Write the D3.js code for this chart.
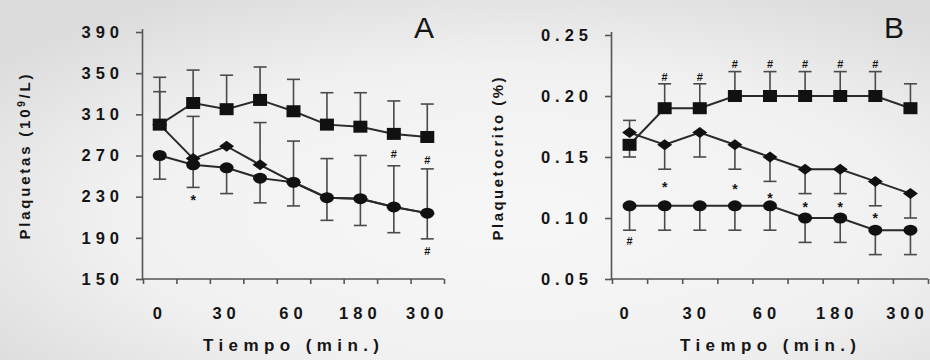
<!DOCTYPE html>
<html><head><meta charset="utf-8">
<script src="https://cdn.jsdelivr.net/npm/d3@7"></script>
<style>
html,body{margin:0;padding:0;background:#ededed;}
svg{display:block;}
text{font-family:"Liberation Sans",Arial,sans-serif;fill:#151515;}
</style></head>
<body>
<svg id="c" width="930" height="360"></svg>
<script>
// ---- data ----
const times = ["0","15","30","45","60","120","180","240","300"];
const timeTickLabels = ["0","","30","","60","","180","","300"];

// Panel A: Plaquetas (10^9/L)
const plaqTicks = [150,190,230,270,310,350,390];
const plaqSquare   = [300,321,315,324,313,300,298,291,288];
const plaqSquareHi = [346,353,348,356,344,331,331,323,320];
const plaqDiamond   = [300,267,279,261,244,229,228,220,214];
const plaqDiamondHi = [332,308,null,302,284,267,270,260,257];
const plaqCircle   = [270,261,258,248,244,229,228,220,214];
const plaqCircleLo = [247,239,233,224,221,207,202,195,189];
const plaqMarks = [
  {i:1, v:229, s:"*"},
  {i:7, v:270, s:"#"},
  {i:8, v:265, s:"#"},
  {i:8, v:176, s:"#"}
];

// Panel B: Plaquetocrito (%)
const pctTicks = [0.05,0.10,0.15,0.20,0.25];
const pctSquare   = [0.16,0.19,0.19,0.20,0.20,0.20,0.20,0.20,0.19];
const pctSquareHi = [null,0.21,0.21,0.22,0.22,0.22,0.22,0.22,0.21];
const pctSquareLo = [0.15,null,null,null,null,null,null,null,null];
const pctDiamond   = [0.17,0.16,0.17,0.16,0.15,0.14,0.14,0.13,0.12];
const pctDiamondHi = [0.18,null,null,null,null,null,null,null,null];
const pctDiamondLo = [null,0.14,0.15,0.14,0.13,0.12,0.12,0.11,0.10];
const pctCircle   = [0.11,0.11,0.11,0.11,0.11,0.10,0.10,0.09,0.09];
const pctCircleLo = [0.09,0.09,0.09,0.09,0.09,0.08,0.08,0.07,0.07];
const pctMarks = [
  {i:0, v:0.080, s:"#"},
  {i:1, v:0.215, s:"#"},{i:2, v:0.215, s:"#"},
  {i:3, v:0.225, s:"#"},{i:4, v:0.225, s:"#"},{i:5, v:0.225, s:"#"},{i:6, v:0.225, s:"#"},{i:7, v:0.225, s:"#"},
  {i:1, v:0.128, s:"*"},{i:3, v:0.126, s:"*"},{i:4, v:0.119, s:"*"},
  {i:5, v:0.111, s:"*"},{i:6, v:0.111, s:"*"},{i:7, v:0.102, s:"*"}
];

// ---- drawing ----
const svg = d3.select("#c");
const defs = svg.append("defs");
const grad = defs.append("radialGradient").attr("id","bg").attr("cx","55%").attr("cy","60%").attr("r","70%");
grad.append("stop").attr("offset","0%").attr("stop-color","#f7f7f7");
grad.append("stop").attr("offset","60%").attr("stop-color","#f1f1f1");
grad.append("stop").attr("offset","100%").attr("stop-color","#dcdcdc");
svg.append("rect").attr("width",930).attr("height",360).attr("fill","url(#bg)");

function panel(cfg){
  const g = svg.append("g");
  const x = d3.scaleBand().domain(times).range([cfg.x0, cfg.x1]).paddingInner(0).paddingOuter(0);
  const y = d3.scaleLinear().domain(cfg.domain).range([cfg.yBottom, cfg.yTop]);
  const cx = t => x(t) + x.bandwidth()/2;

  // y axis
  const ya = d3.axisLeft(y).tickValues(cfg.ticks).tickFormat(cfg.fmt).tickSize(7).tickPadding(12);
  const yg = g.append("g").attr("transform",`translate(${cfg.x0},0)`).call(ya);
  yg.select(".domain").attr("stroke","#555").attr("stroke-width",1.6).attr("d",`M-0.5,${cfg.yTop-3}V${cfg.yBottom}`);
  yg.selectAll(".tick line").attr("stroke","#555").attr("stroke-width",1.6);
  yg.selectAll(".tick text").attr("font-size",16.5).attr("letter-spacing","5px").attr("fill","#151515")
    .attr("font-family","'Liberation Sans',Arial,sans-serif").attr("font-weight","bold");

  // x axis: ticks at band boundaries
  const xb = d3.scaleLinear().domain([0,times.length]).range([cfg.x0,cfg.x1]);
  const xa = d3.axisBottom(xb).tickValues(d3.range(0,times.length+1)).tickFormat("").tickSize(5);
  const xg = g.append("g").attr("transform",`translate(0,${cfg.yBottom})`).call(xa);
  xg.select(".domain").attr("stroke","#555").attr("stroke-width",1.6).attr("d",`M${cfg.x0},0H${cfg.x1}`);
  xg.selectAll(".tick line").attr("stroke","#555").attr("stroke-width",1.6);
  g.append("g").selectAll("text").data(times).join("text")
    .attr("x", t => cx(t) - cfg.labelShift).attr("y", 319).attr("text-anchor","middle")
    .attr("font-size",16.5).attr("font-weight","bold").attr("letter-spacing","5px")
    .text((t,i) => timeTickLabels[i]);

  // error bars
  const eb = g.append("g").attr("stroke","#4a4a4a").attr("stroke-width",1.6);
  cfg.errs.forEach(e => {
    times.forEach((t,i) => {
      const lim = e.lim[i];
      if (lim == null) return;
      const base = e.base[i];
      eb.append("line").attr("x1",cx(t)).attr("x2",cx(t)).attr("y1",y(base)).attr("y2",y(lim));
      eb.append("line").attr("x1",cx(t)-6.5).attr("x2",cx(t)+6.5).attr("y1",y(lim)).attr("y2",y(lim));
    });
  });

  // lines
  const line = d3.line().x((d,i)=>cx(times[i])).y(d=>y(d));
  cfg.series.forEach(s => {
    g.append("path").datum(s.vals).attr("d",line).attr("fill","none").attr("stroke","#2a2a2a").attr("stroke-width",2);
  });
  // markers
  cfg.series.forEach(s => {
    const mg = g.append("g").attr("fill","#111");
    s.vals.forEach((v,i) => {
      const px = cx(times[i]), py = y(v);
      if (s.shape === "square") {
        mg.append("rect").attr("x",px-7).attr("y",py-6).attr("width",14).attr("height",12);
      } else if (s.shape === "diamond") {
        mg.append("path").attr("d",`M${px-7.5},${py}L${px},${py-5.5}L${px+7.5},${py}L${px},${py+5.5}Z`);
      } else {
        mg.append("ellipse").attr("cx",px).attr("cy",py).attr("rx",7).attr("ry",5.5);
      }
    });
  });

  // significance marks
  g.append("g").selectAll("text").data(cfg.marks).join("text")
    .attr("x", d => cx(times[d.i])).attr("y", d => y(d.v))
    .attr("text-anchor","middle").attr("dominant-baseline","middle")
    .attr("font-size", d => d.s === "#" ? 11 : 14).attr("font-weight","bold")
    .attr("fill","#111")
    .attr("dy", d => d.s === "*" ? 4 : 0)
    .text(d => d.s);

  // axis titles
  g.append("text").attr("x", cfg.xTitleX).attr("y", 351).attr("text-anchor","middle")
    .attr("font-size",17).attr("font-weight","bold").attr("textLength",176).attr("lengthAdjust","spacing")
    .text("Tiempo (min.)");
  const yt = g.append("text").attr("transform",`translate(${cfg.yTitleX},${cfg.yTitleY}) rotate(-90)`)
    .attr("text-anchor","middle").attr("font-size",15).attr("font-weight","bold")
    .attr("textLength",cfg.yTitleLen).attr("lengthAdjust","spacing");
  cfg.yTitle.forEach(p => {
    const ts = yt.append("tspan").text(p.t);
    if (p.sup) ts.attr("font-size",10).attr("baseline-shift","super");
  });
  // panel letter
  g.append("text").attr("x",cfg.letterX).attr("y",38).attr("text-anchor","middle")
    .attr("font-size",30).attr("font-weight","normal").attr("fill","#111").text(cfg.letter);
}

panel({
  x0:143, x1:444, yTop:32, yBottom:279, domain:[150,390], ticks:plaqTicks, fmt:d3.format("d"), labelShift:0,
  series:[
    {vals:plaqCircle, shape:"circle"},
    {vals:plaqDiamond, shape:"diamond"},
    {vals:plaqSquare, shape:"square"}
  ],
  errs:[
    {base:plaqSquare, lim:plaqSquareHi},
    {base:plaqDiamond, lim:plaqDiamondHi},
    {base:plaqCircle, lim:plaqCircleLo}
  ],
  marks:plaqMarks,
  xTitleX:291, yTitleX:30, yTitleY:157, yTitleLen:165,
  yTitle:[{t:"Plaquetas (10"},{t:"9",sup:true},{t:"/L)"}], letter:"A", letterX:424
});

panel({
  x0:612, x1:928, yTop:35, yBottom:279, domain:[0.05,0.25], ticks:pctTicks, fmt:d3.format(".2f"), labelShift:3,
  series:[
    {vals:pctCircle, shape:"circle"},
    {vals:pctDiamond, shape:"diamond"},
    {vals:pctSquare, shape:"square"}
  ],
  errs:[
    {base:pctSquare, lim:pctSquareHi},
    {base:pctSquare, lim:pctSquareLo},
    {base:pctDiamond, lim:pctDiamondHi},
    {base:pctDiamond, lim:pctDiamondLo},
    {base:pctCircle, lim:pctCircleLo}
  ],
  marks:pctMarks,
  xTitleX:768, yTitleX:503, yTitleY:159, yTitleLen:163,
  yTitle:[{t:"Plaquetocrito (%)"}], letter:"B", letterX:894
});
</script>
</body></html>
